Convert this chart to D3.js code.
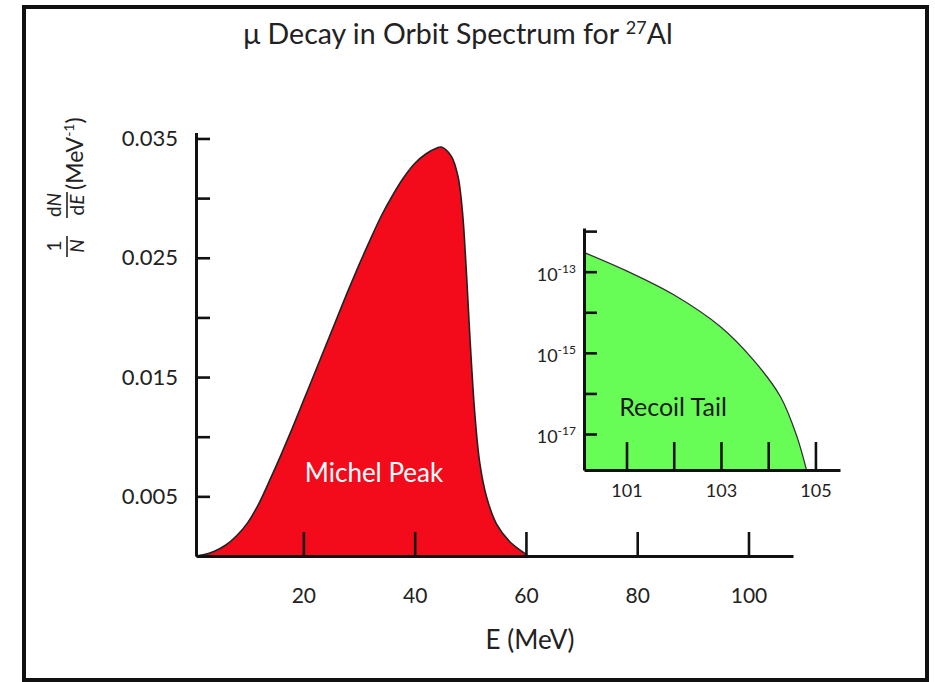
<!DOCTYPE html>
<html>
<head>
<meta charset="utf-8">
<script src="https://cdn.jsdelivr.net/npm/d3@7"></script>
<style>
  body { margin: 0; background: #fff; }
  svg text { font-family: Lato, "Open Sans", sans-serif; fill: #222; }
</style>
</head>
<body>
<svg id="chart" width="935" height="682"></svg>
<script>
// Michel peak (main panel)
var michelEnergy = [0.7, 2, 4, 6, 8, 10, 12, 14, 16, 18, 20, 22, 24, 26, 28, 30, 32, 34, 36, 38, 40, 42, 44, 44.8,
                    46.6, 47.8, 48.6, 49.2, 49.7, 50.2, 50.8, 51.7, 52.9, 54.7, 57.1, 60.1, 60.3];
var michelValue  = [0, 0.0001, 0.0004, 0.0009, 0.0017, 0.0028, 0.0044, 0.0064, 0.0085, 0.0107, 0.0130, 0.0153,
                    0.0176, 0.0199, 0.0222, 0.0244, 0.0265, 0.0285, 0.0302, 0.0317, 0.0329, 0.0337, 0.0342, 0.03428,
                    0.0335, 0.0318, 0.0288, 0.0246, 0.0203, 0.0162, 0.0120, 0.0078, 0.0050, 0.0027, 0.0012, 0.0001, 0];

// Recoil tail (inset), log scale
var tailEnergy = [100.11, 101.08, 102.0, 102.99, 103.69, 104.26, 104.61, 104.81];
var tailValue  = [2.95e-13, 9.5e-14, 2.7e-14, 4.4e-15, 6.6e-16, 8.3e-17, 8.5e-18, 1.3e-18];

// Ticks
var mainXTicks = [20, 40, 60, 80, 100];
var mainYTicks = [0.005, 0.010, 0.015, 0.020, 0.025, 0.030, 0.035];
var mainYLabels = ["0.005", "", "0.015", "", "0.025", "", "0.035"];
var insetXTicks = [101, 102, 103, 104, 105];
var insetXLabels = ["101", "", "103", "", "105"];
var insetYExponents = [-12, -13, -14, -15, -16, -17];
var insetYLabels = ["", "-13", "", "-15", "", "-17"];

var svg = d3.select("#chart");

// frame round the whole figure
svg.append("rect")
  .attr("x", 24).attr("y", 7).attr("width", 903).attr("height", 673)
  .style("fill", "none").style("stroke", "#111").style("stroke-width", 4);

// title
var title = svg.append("text")
  .attr("x", 458).attr("y", 44)
  .attr("text-anchor", "middle")
  .style("font-size", "28.5px");
title.append("tspan").text("\u03bc Decay in Orbit Spectrum for ");
title.append("tspan").attr("dy", -10).style("font-size", "18px").text("27");
title.append("tspan").attr("dy", 10).text("Al");

// ---- main panel ----
var x = d3.scaleLinear().domain([0.7, 108]).range([196, 793]);
var y = d3.scaleLinear().domain([0, 0.0355]).range([556, 132.5]);

var michel = michelEnergy.map(function(e, i) { return { e: e, v: michelValue[i] }; });
var smooth = d3.curveCatmullRom.alpha(0.5);

svg.append("path")
  .datum(michel)
  .attr("d", d3.area()
    .x(function(d) { return x(d.e); })
    .y0(y(0))
    .y1(function(d) { return y(d.v); })
    .curve(smooth))
  .style("fill", "#f30b1c");

svg.append("path")
  .datum(michel)
  .attr("d", d3.line()
    .x(function(d) { return x(d.e); })
    .y(function(d) { return y(d.v); })
    .curve(smooth))
  .style("fill", "none").style("stroke", "#222").style("stroke-width", 1.6);

var yAxis = svg.append("g")
  .attr("transform", "translate(196,0)")
  .call(d3.axisLeft(y).tickValues(mainYTicks).tickSize(-14).tickSizeOuter(0).tickPadding(18)
    .tickFormat(function(d, i) { return mainYLabels[i]; }));

var xAxis = svg.append("g")
  .attr("transform", "translate(0,556)")
  .call(d3.axisBottom(x).tickValues(mainXTicks).tickSize(-24).tickSizeOuter(0).tickPadding(32)
    .tickFormat(d3.format("d")));

[yAxis, xAxis].forEach(function(g) {
  g.select(".domain").style("stroke", "#111").style("stroke-width", 3);
  g.selectAll(".tick line").style("stroke", "#111").style("stroke-width", 2.6);
  g.selectAll(".tick text").style("font-size", "21px").style("fill", "#222").style("font-family", "Lato, sans-serif");
});
yAxis.selectAll(".tick text").style("font-size", "22px");

svg.append("text")
  .attr("x", 374).attr("y", 482)
  .attr("text-anchor", "middle")
  .style("font-size", "26px").style("fill", "#fff")
  .text("Michel Peak");

svg.append("text")
  .attr("x", 530).attr("y", 649)
  .attr("text-anchor", "middle")
  .style("font-size", "26px")
  .text("E (MeV)");

// y axis title, rotated fraction  1/N dN/dE (MeV^-1)
var lab = svg.append("g").attr("transform", "translate(67,0) rotate(-90)");
function fracPart(u, v, txt, italicTail) {
  var t = lab.append("text").attr("x", u).attr("y", v).attr("text-anchor", "middle").style("font-size", "19px");
  if (italicTail) {
    t.append("tspan").text(txt);
    t.append("tspan").style("font-style", "italic").text(italicTail);
  } else {
    t.append("tspan").style("font-style", txt == "N" ? "italic" : "normal").text(txt);
  }
}
fracPart(-246, -6, "1");
fracPart(-246, 17, "N");
fracPart(-205, -6, "d", "N");
fracPart(-205, 17, "d", "E");
lab.append("line").attr("x1", -257).attr("x2", -236).attr("y1", 0).attr("y2", 0)
  .style("stroke", "#222").style("stroke-width", 1.6);
lab.append("line").attr("x1", -218).attr("x2", -192).attr("y1", 0).attr("y2", 0)
  .style("stroke", "#222").style("stroke-width", 1.6);
var unit = lab.append("text").attr("x", -190).attr("y", 16).attr("text-anchor", "start").style("font-size", "23px");
unit.append("tspan").text("(MeV");
unit.append("tspan").attr("dy", -9).style("font-size", "14px").text("-1");
unit.append("tspan").attr("dy", 9).text(")");

// ---- inset: recoil tail ----
var xi = d3.scaleLinear().domain([100.1, 105.52]).range([584, 840]);
var yi = d3.scaleLog().domain([Math.pow(10, -17.887), Math.pow(10, -11.923)]).range([470, 228]);

var tail = tailEnergy.map(function(e, i) { return { e: e, v: tailValue[i] }; });

svg.append("path")
  .datum(tail)
  .attr("d", d3.area()
    .x(function(d) { return xi(d.e); })
    .y0(470)
    .y1(function(d) { return yi(d.v); })
    .curve(smooth))
  .style("fill", "#67fd56");

svg.append("path")
  .datum(tail)
  .attr("d", d3.line()
    .x(function(d) { return xi(d.e); })
    .y(function(d) { return yi(d.v); })
    .curve(smooth))
  .style("fill", "none").style("stroke", "#333").style("stroke-width", 1.3);

var insetY = svg.append("g")
  .attr("transform", "translate(584,0)")
  .call(d3.axisLeft(yi).tickValues(insetYExponents.map(function(p) { return Math.pow(10, p); }))
    .tickSize(-13).tickSizeOuter(0).tickFormat(""));

var insetX = svg.append("g")
  .attr("transform", "translate(0,470)")
  .call(d3.axisBottom(xi).tickValues(insetXTicks).tickSize(-28).tickSizeOuter(0).tickPadding(14)
    .tickFormat(function(d, i) { return insetXLabels[i]; }));

[insetY, insetX].forEach(function(g) {
  g.select(".domain").style("stroke", "#111").style("stroke-width", 3);
  g.selectAll(".tick line").style("stroke", "#111").style("stroke-width", 2.6);
  g.selectAll(".tick text").style("font-size", "18px").style("fill", "#222").style("font-family", "Lato, sans-serif");
});

// inset y labels as 10 with a raised exponent
insetYExponents.forEach(function(p, i) {
  if (!insetYLabels[i]) return;
  var t = svg.append("text")
    .attr("x", 576).attr("y", yi(Math.pow(10, p)) + 9)
    .attr("text-anchor", "end")
    .style("font-size", "18px");
  t.append("tspan").text("10");
  t.append("tspan").attr("dy", -8).style("font-size", "12px").text(insetYLabels[i]);
});

svg.append("text")
  .attr("x", 673).attr("y", 416)
  .attr("text-anchor", "middle")
  .style("font-size", "25px").style("fill", "#1a1a1a")
  .text("Recoil Tail");
</script>
</body>
</html>
